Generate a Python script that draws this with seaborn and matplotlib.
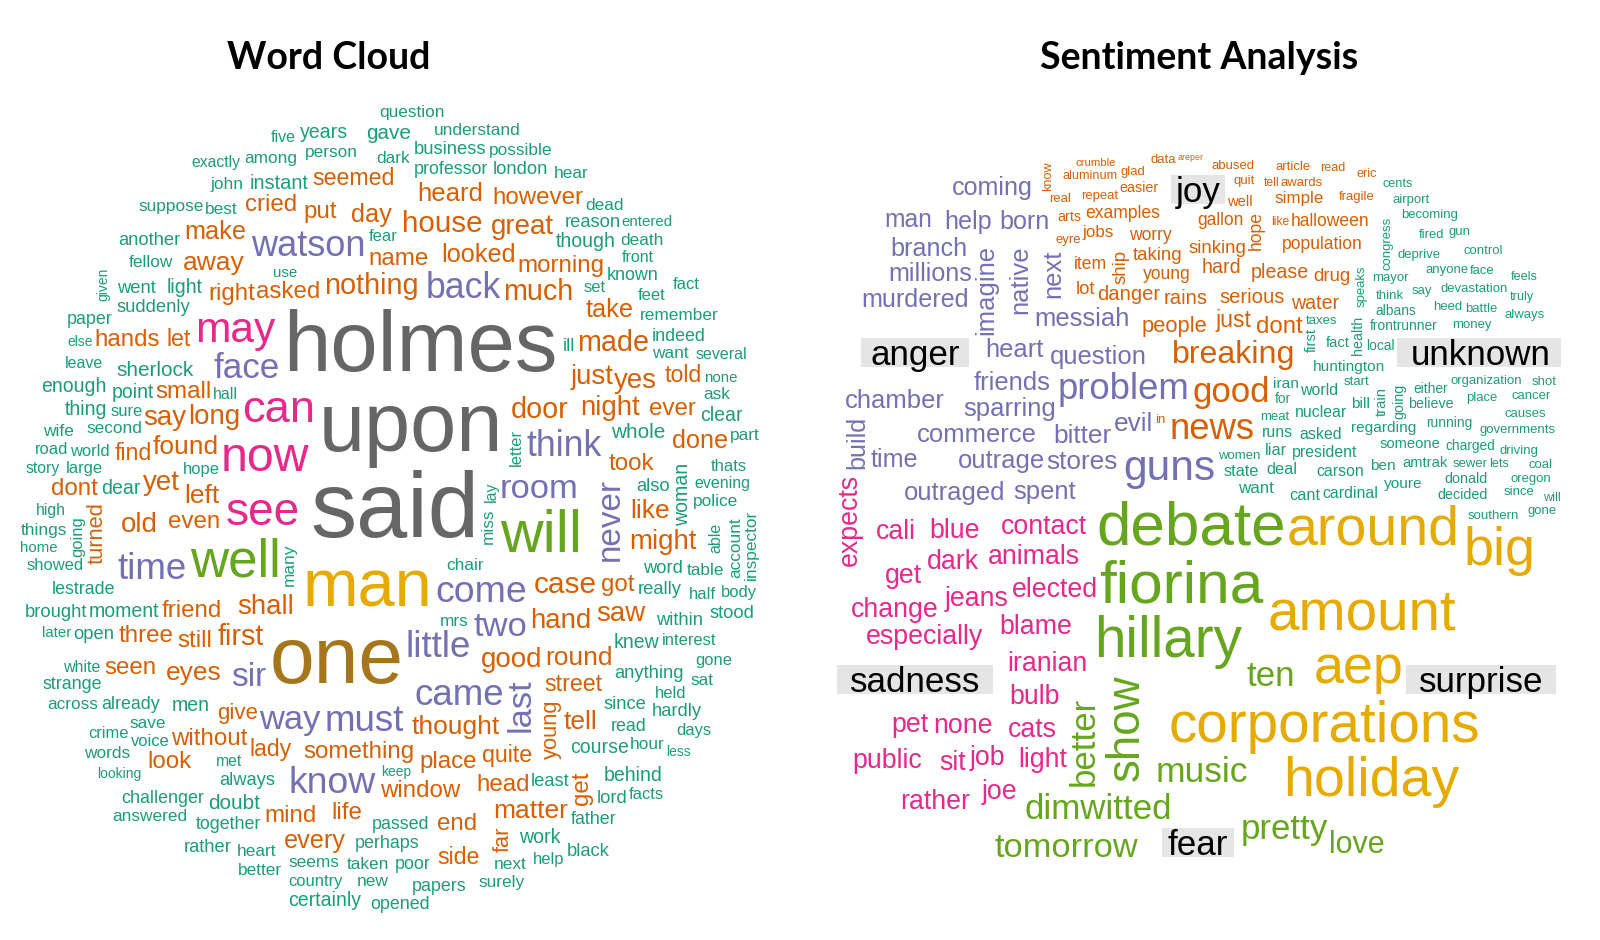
import numpy as np
import matplotlib
matplotlib.use("Agg")
import matplotlib.pyplot as plt
from matplotlib.font_manager import FontProperties
from matplotlib.patches import Rectangle
import seaborn as sns

# word cloud of the Sherlock Holmes text: word and count
cloud_words = [
    "now", "well", "give", "new", "heard", "suddenly", "things", "friend", "country", "seen",
    "case", "sir", "gave", "white", "behind", "else", "heart", "cried", "looked", "doubt",
    "come", "window", "stood", "least", "head", "exactly", "woman", "work", "really", "face",
    "ever", "got", "much", "great", "night", "made", "name", "among", "less", "remember",
    "instant", "said", "showed", "holmes", "dear", "reason", "five", "course", "able", "good",
    "yet", "watson", "within", "business", "shall", "just", "paper", "whole", "john", "away",
    "large", "way", "little", "person", "hear", "still", "challenger", "make", "lady", "put",
    "asked", "right", "ill", "already", "day", "something", "account", "strange", "room", "crime",
    "black", "mrs", "tell", "door", "eyes", "entered", "read", "papers", "days", "police",
    "inspector", "miss", "can", "hands", "small", "surely", "street", "letter", "answered", "first",
    "back", "years", "going", "old", "man", "open", "however", "professor", "none", "use",
    "point", "will", "perhaps", "let", "told", "high", "might", "looking", "known", "opened",
    "save", "without", "dont", "table", "seemed", "long", "keep", "may", "round", "went",
    "world", "given", "lord", "moment", "wife", "matter", "came", "death", "chair", "several",
    "yes", "want", "ask", "passed", "hour", "mind", "word", "next", "across", "leave",
    "life", "sure", "gone", "dead", "men", "better", "home", "later", "another", "met",
    "last", "time", "many", "saw", "even", "poor", "thing", "half", "help", "done",
    "feet", "road", "place", "best", "part", "taken", "morning", "get", "thats", "brought",
    "since", "never", "side", "held", "father", "fear", "light", "clear", "sherlock", "set",
    "question", "quite", "end", "interest", "fellow", "far", "voice", "understand", "second", "upon",
    "facts", "found", "three", "story", "two", "like", "always", "together", "enough", "anything",
    "hardly", "know", "see", "say", "hope", "though", "rather", "front", "london", "thought",
    "think", "take", "evening", "one", "fact", "lestrade", "turned", "hand", "indeed", "words",
    "lay", "body", "every", "seems", "suppose", "knew", "must", "certainly", "nothing", "possible",
    "left", "dark", "house", "young", "sat", "look", "took", "also", "hall", "find",
]
cloud_counts = [
    219, 247, 64, 35, 85, 41, 34, 75, 30, 75,
    110, 130, 55, 27, 48, 14, 34, 75, 82, 55,
    154, 75, 41, 41, 75, 25, 48, 48, 41, 140,
    75, 75, 103, 97, 96, 103, 75, 34, 14, 34,
    51, 480, 30, 439, 48, 41, 27, 48, 27, 97,
    97, 147, 41, 41, 96, 96, 38, 55, 34, 89,
    30, 137, 151, 34, 34, 75, 38, 82, 69, 75,
    75, 75, 38, 38, 82, 75, 34, 38, 137, 30,
    41, 34, 89, 103, 89, 21, 38, 38, 30, 34,
    34, 34, 202, 75, 75, 34, 69, 30, 34, 103,
    144, 48, 30, 96, 329, 41, 75, 38, 21, 21,
    48, 283, 38, 69, 69, 25, 96, 14, 38, 38,
    34, 75, 75, 34, 69, 96, 14, 185, 89, 41,
    30, 14, 41, 48, 34, 89, 151, 34, 34, 27,
    96, 34, 34, 38, 34, 75, 41, 34, 34, 27,
    75, 30, 30, 34, 48, 34, 21, 21, 41, 25,
    137, 151, 34, 96, 75, 38, 48, 30, 30, 82,
    30, 30, 75, 34, 34, 34, 75, 75, 30, 41,
    41, 130, 69, 30, 38, 30, 48, 48, 55, 30,
    34, 69, 75, 30, 34, 62, 30, 34, 34, 425,
    30, 89, 75, 25, 137, 89, 41, 38, 48, 41,
    41, 154, 206, 96, 30, 48, 41, 27, 41, 89,
    144, 82, 27, 411, 30, 38, 62, 96, 38, 34,
    27, 30, 82, 34, 34, 48, 151, 48, 104, 34,
    89, 34, 108, 62, 34, 75, 75, 41, 27, 69,
]
cloud_vertical = ["woman", "able", "account", "inspector", "miss", "letter", "going", "given",
                  "last", "many", "get", "never", "far", "turned", "lay", "young"]

# sentiment comparison cloud: words and scores per sentiment
sentiments = ["unknown", "joy", "anger", "sadness", "fear", "surprise"]

unknown_words = [
    "southern", "women", "speaks", "running", "taxes", "place", "sewer", "think", "mayor", "organization",
    "governments", "since", "oregon", "driving", "meat", "money", "lets", "health", "going", "decided",
    "charged", "for", "heed", "say", "congress", "cents", "either", "believe", "frontrunner", "someone",
    "local", "donald", "albans", "youre", "train", "causes", "devastation", "iran", "first", "state",
    "anyone", "deprive", "will", "runs", "cancer", "gone", "carson", "president", "truly", "feels",
    "ben", "start", "deal", "fact", "battle", "fired", "amtrak", "cardinal", "regarding", "becoming",
    "want", "asked", "coal", "nuclear", "always", "face", "control", "cant", "liar", "world",
    "airport", "shot", "gun", "bill", "huntington",
]
unknown_scores = [
    10, 10, 10, 11, 10, 10, 10, 10, 10, 10,
    10, 10, 10, 10, 10, 10, 9, 12, 12, 12,
    11, 11, 10, 10, 10, 9, 11, 12, 11, 13,
    11, 12, 11, 14, 13, 10, 10, 14, 13, 16,
    10, 10, 9, 15, 10, 10, 15, 15, 9, 9,
    14, 10, 16, 13, 10, 10, 13, 15, 14, 10,
    17, 15, 10, 15, 10, 10, 10, 16, 16, 15,
    10, 10, 10, 14, 14,
]
joy_words = [
    "fragile", "awards", "in", "repeat", "aluminum", "eyre", "young", "know", "population", "jobs",
    "hope", "quit", "worry", "eric", "abused", "real", "data", "gallon", "examples", "halloween",
    "taking", "read", "drug", "easier", "sinking", "serious", "water", "crumble", "like", "simple",
    "please", "rains", "well", "item", "hard", "danger", "tell", "people", "just", "arts",
    "dont", "breaking", "ship", "areper", "glad", "lot", "good", "news", "article",
]
joy_scores = [
    10, 10, 10, 10, 9, 10, 18, 9, 18, 17,
    18, 10, 18, 9, 10, 10, 10, 18, 18, 18,
    20, 9, 20, 12, 20, 23, 22, 9, 8, 17,
    22, 23, 13, 18, 22, 23, 8, 26, 28, 12,
    30, 45, 20, 9, 10, 20, 50, 53, 10,
]
anger_words = [
    "spent", "question", "time", "outrage", "sparring", "messiah", "born", "outraged", "commerce", "murdered",
    "heart", "build", "millions", "next", "evil", "native", "imagine", "help", "problem", "stores",
    "chamber", "coming", "bitter", "guns", "man", "friends", "branch",
]
anger_scores = [
    33, 33, 32, 33, 33, 33, 32, 33, 33, 32,
    33, 32, 32, 33, 34, 33, 33, 32, 53, 34,
    33, 32, 34, 64, 31, 33, 32,
]
sadness_words = [
    "contact", "animals", "elected", "blame", "iranian", "blue", "jeans", "dark", "bulb", "especially",
    "cats", "cali", "change", "light", "get", "none", "expects", "job", "pet", "sit",
    "joe", "public", "rather",
]
sadness_scores = [35] * len(sadness_words)
fear_words = ["debate", "fiorina", "hillary", "show", "ten", "better", "dimwitted", "music",
              "pretty", "love", "tomorrow"]
fear_scores = [100, 97, 90, 70, 50, 50, 50, 51, 50, 42, 49]
surprise_words = ["amount", "aep", "big", "around", "corporations", "holiday"]
surprise_scores = [90, 85, 85, 88, 90, 88]

sentiment_vertical = {
    "unknown": ["speaks", "health", "going", "congress", "train", "first"],
    "joy": ["know", "hope", "ship"],
    "anger": ["build", "next", "native", "imagine"],
    "sadness": ["expects"],
    "fear": ["show", "better"],
    "surprise": [],
}

DPI = 100
CAP = 0.70
FONT = "Liberation Sans"
TH_STEP, R_STEP = 0.07, 0.03

sns.set_theme(style="white")
plt.rcParams["font.family"] = [FONT, "DejaVu Sans"]
dark2 = sns.color_palette("Dark2", 8)

fig = plt.figure(figsize=(16, 9.4), dpi=DPI)
fig.patch.set_facecolor("white")
renderer = fig.canvas.get_renderer()


def text_width(word, pt):
    w, h, d = renderer.get_text_width_height_descent(word, FontProperties(family=FONT, size=pt), ismath=False)
    return w


def spiral_place(sizes, W, H, groups=None, nbins=1, boxes=None, shrink=(1.0,)):
    # spiral search in the spirit of R's wordcloud / comparison.cloud
    boxes = [] if boxes is None else list(boxes)
    bins = np.linspace(0, 2 * np.pi, nbins + 1)
    steps = np.arange(int(np.sqrt(0.5) * 2 * np.pi / (R_STEP * TH_STEP)) + 1)
    r = steps * R_STEP * TH_STEP / (2 * np.pi)
    spots = {}
    for i, (wpx, hpx) in enumerate(sizes):
        theta = (i * 2.39996) % (2 * np.pi) + steps * TH_STEP
        x = 0.5 + r * np.cos(theta)
        y = 0.5 + r * np.sin(theta)
        sector = np.ones(len(steps), bool)
        if groups is not None:
            th = theta % (2 * np.pi)
            sector = (th > bins[groups[i]]) & (th < bins[groups[i] + 1])
        B = np.array(boxes) if boxes else None
        for f in shrink:
            wid, ht = (wpx * f + 1) / W, (hpx * f + 1) / H
            ok = sector & (x - wid / 2 > 0) & (y - ht / 2 > 0) & (x + wid / 2 < 1) & (y + ht / 2 < 1)
            if B is not None:
                hit = ((x[:, None] - wid / 2 < B[:, 2]) & (x[:, None] + wid / 2 > B[:, 0]) &
                       (y[:, None] - ht / 2 < B[:, 3]) & (y[:, None] + ht / 2 > B[:, 1]))
                ok &= ~hit.any(axis=1)
            idx = np.flatnonzero(ok)
            if len(idx):
                k = idx[0]
                boxes.append([x[k] - wid / 2, y[k] - ht / 2, x[k] + wid / 2, y[k] + ht / 2])
                spots[i] = (x[k], y[k], f)
                break
        else:
            return None
    return spots


def draw_cloud(ax, words, pts, rot, colors, W, H, groups=None, nbins=1, boxes=None,
               shrink=(1.0,)):
    scale = 1.0
    texts = [ax.text(0.5, 0.5, w, fontsize=p, rotation=90 if rt else 0,
                     ha="center", va="center", color=c)
             for w, p, rt, c in zip(words, pts, rot, colors)]
    while True:
        sizes = []
        for t, p in zip(texts, pts):
            t.set_fontsize(p * scale)
            bb = t.get_window_extent(renderer)
            sizes.append((bb.width, bb.height))
        spots = spiral_place(sizes, W, H, groups, nbins, boxes, shrink)
        if spots is not None:
            break
        scale *= 0.98
    for i, t in enumerate(texts):
        x, y, f = spots[i]
        t.set_position((x, y))
        if f < 1:
            t.set_fontsize(pts[i] * scale * f)


# ---- left: word cloud ----
LW, LH = 754, 830
ax1 = fig.add_axes([18 / 1600, (940 - 928) / 940, LW / 1600, LH / 940])
ax1.set_xlim(0, 1)
ax1.set_ylim(0, 1)
ax1.axis("off")

counts = np.array(cloud_counts, dtype=float)
normed = counts / counts.max()
mix = ((np.arange(len(counts)) + 1) * 0.6180339887) % 1
order = np.argsort(-(np.log(counts) + 1.0 * mix), kind="stable")
l_words = [cloud_words[j] for j in order]
l_pts = [23 * (0.5 + 3.5 * normed[j]) * 0.72 for j in order]
l_rot = [w in cloud_vertical for w in l_words]
l_cols = [dark2[int(np.ceil(8 * normed[j] - 1e-9)) - 1] for j in order]
draw_cloud(ax1, l_words, l_pts, l_rot, l_cols, LW, LH)

# ---- right: comparison cloud ----
RW, RH = 726, 726
ax2 = fig.add_axes([835 / 1600, (940 - 879) / 940, RW / 1600, RH / 940])
ax2.set_xlim(0, 1)
ax2.set_ylim(0, 1)
ax2.axis("off")

sent_data = {
    "unknown": (unknown_words, unknown_scores),
    "joy": (joy_words, joy_scores),
    "anger": (anger_words, anger_scores),
    "sadness": (sadness_words, sadness_scores),
    "fear": (fear_words, fear_scores),
    "surprise": (surprise_words, surprise_scores),
}
r_words, r_scores, r_groups, r_rot = [], [], [], []
for g, s in enumerate(sentiments):
    ws, sc = sent_data[s]
    r_words += ws
    r_scores += sc
    r_groups += [g] * len(ws)
    r_rot += [w in sentiment_vertical[s] for w in ws]
r_scores = np.array(r_scores, dtype=float)
r_norm = r_scores / r_scores.max()
order = np.argsort(-r_scores, kind="stable")
R_PX = 17.5
r_words = [r_words[j] for j in order]
r_pts = [R_PX * (0.5 + 3.5 * r_norm[j]) * 0.72 for j in order]
r_grp = [r_groups[j] for j in order]
r_rot = [r_rot[j] for j in order]
r_cols = [dark2[g] for g in r_grp]

n = len(sentiments)
bins = np.linspace(0, 2 * np.pi, n + 1)
label_pt = R_PX * 2 * 0.72
label_boxes = []
for g, s in enumerate(sentiments):
    th = (bins[g] + bins[g + 1]) / 2
    x1, y1 = 0.5 + 0.45 * np.cos(th), 0.5 + 0.45 * np.sin(th)
    wid = text_width(s, label_pt) * 1.2 / RW
    ht = CAP * label_pt * DPI / 72 * 1.2 / RH
    ax2.add_patch(Rectangle((x1 - wid / 2, y1 - ht / 2), wid, ht, facecolor="#E5E5E5", edgecolor="none"))
    t = ax2.text(x1, y1 - CAP * label_pt * DPI / 72 / 2 / RH, s, ha="center", va="baseline",
                 fontsize=label_pt, color="black")
    bb = t.get_window_extent(renderer).transformed(ax2.transData.inverted())
    label_boxes.append([min(x1 - wid / 2, bb.x0), min(y1 - ht / 2, bb.y0),
                        max(x1 + wid / 2, bb.x1), max(y1 + ht / 2, bb.y1)])

draw_cloud(ax2, r_words, r_pts, r_rot, r_cols, RW, RH, groups=r_grp, nbins=n,
           boxes=label_boxes, shrink=(1.0, 0.9, 0.8, 0.7))

# ---- titles ----
fig.text(329 / 1600, 1 - 69 / 940, "Word Cloud", ha="center", va="baseline", color="black",
         fontsize=27, fontweight="bold", family=["Lato", "DejaVu Sans"])
fig.text(1199 / 1600, 1 - 69 / 940, "Sentiment Analysis", ha="center", va="baseline", color="black",
         fontsize=27, fontweight="bold", family=["Lato", "DejaVu Sans"])

fig.savefig("out.png", dpi=DPI)
